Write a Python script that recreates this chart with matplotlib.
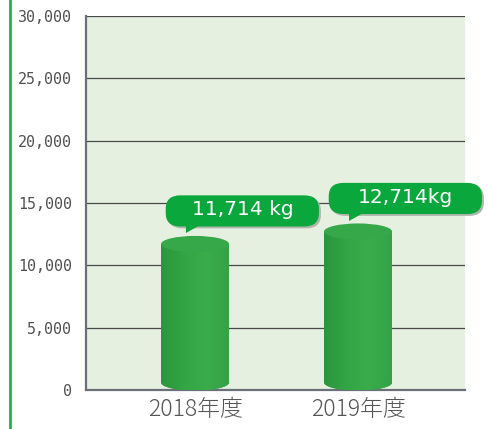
import matplotlib
matplotlib.use("Agg")
import matplotlib.pyplot as plt
from matplotlib.patches import Ellipse, Rectangle, FancyBboxPatch, Polygon
from matplotlib.lines import Line2D
from matplotlib.colors import LinearSegmentedColormap
import numpy as np

# data
years = ["2018年度", "2019年度"]
values = [11714, 12714]
labels = ["11,714 kg", "12,714kg"]
yticks = [0, 5000, 10000, 15000, 20000, 25000, 30000]

plt.rcParams['font.family'] = ['Noto Sans CJK JP', 'DejaVu Sans']

fig = plt.figure(figsize=(4.89, 4.29), dpi=100)
ax = fig.add_axes([86/489, 39/429, 379/489, 374/429])
ax.set_facecolor('#e5f0e0')
ax.set_xlim(-0.669, 1.656)
ax.set_ylim(0, 30000)

for y in yticks[1:]:
    ax.axhline(y, color='#4a4a4a', lw=0.9, zorder=1)

ax.set_yticks(yticks)
ax.set_yticklabels([f"{v:,}" for v in yticks], family='DejaVu Sans Mono', fontsize=10.8, color='#505050')
ax.set_xticks(range(len(years)))
ax.set_xticklabels(years, fontsize=16.5, color='#555555', fontweight=300)
ax.tick_params(length=0)
ax.tick_params(axis='y', pad=10)
ax.tick_params(axis='x', pad=5)
for s in ['top', 'right']:
    ax.spines[s].set_visible(False)
for s in ['left', 'bottom']:
    ax.spines[s].set_color('#6b7078')
    ax.spines[s].set_linewidth(1.6)

bw = 0.417
eh = 1290
base = 600
grad = np.linspace(0, 1, 64).reshape(1, -1)
cmap = LinearSegmentedColormap.from_list('g', ['#2a963c', '#33a545', '#3aac4b', '#34a346'])

for i, v in enumerate(values):
    x0 = i - bw/2
    be = Ellipse((i, base), bw, eh, fc='#35a547', ec='none', zorder=3)
    ax.add_patch(be)
    body = Rectangle((x0, base), bw, v - base, fc='none', ec='none', zorder=3)
    ax.add_patch(body)
    im = ax.imshow(grad, extent=(x0, x0 + bw, base, v), aspect='auto', cmap=cmap, zorder=3)
    im.set_clip_path(body)
    im2 = ax.imshow(grad, extent=(x0, x0 + bw, base - eh/2, base + eh/2), aspect='auto', cmap=cmap, zorder=3)
    im2.set_clip_path(be)
    te = Ellipse((i, v), bw, eh, fc='#37a849', ec='none', zorder=4)
    ax.add_patch(te)

    # callout
    bl, br = i - 0.18, i + 0.76
    bb, bt = v + 1400, v + 3900
    sh = FancyBboxPatch((bl + 0.012, bb - 150), br - bl, bt - bb,
                        boxstyle='round,pad=0,rounding_size=0.09', mutation_aspect=12000,
                        fc='#b0b6ae', ec='none', zorder=5, clip_on=False)
    ax.add_patch(sh)
    box = FancyBboxPatch((bl, bb), br - bl, bt - bb,
                         boxstyle='round,pad=0,rounding_size=0.09', mutation_aspect=12000,
                         fc='#0aa83c', ec='none', zorder=6, clip_on=False)
    ax.add_patch(box)
    tail = Polygon([(i - 0.055, v + 880), (i - 0.055, bb + 200), (i + 0.04, bb + 200)],
                   closed=True, fc='#0aa83c', ec='none', zorder=6, clip_on=False)
    ax.add_patch(tail)
    ax.text((bl + br) / 2, (bb + bt) / 2 + 80, labels[i], ha='center', va='center',
            fontsize=14.5, color='white', family='DejaVu Sans', zorder=7)

fig.add_artist(Line2D([10/489, 10/489], [0, 1], color='#22b14c', lw=2))

fig.savefig('out.png', dpi=100)
